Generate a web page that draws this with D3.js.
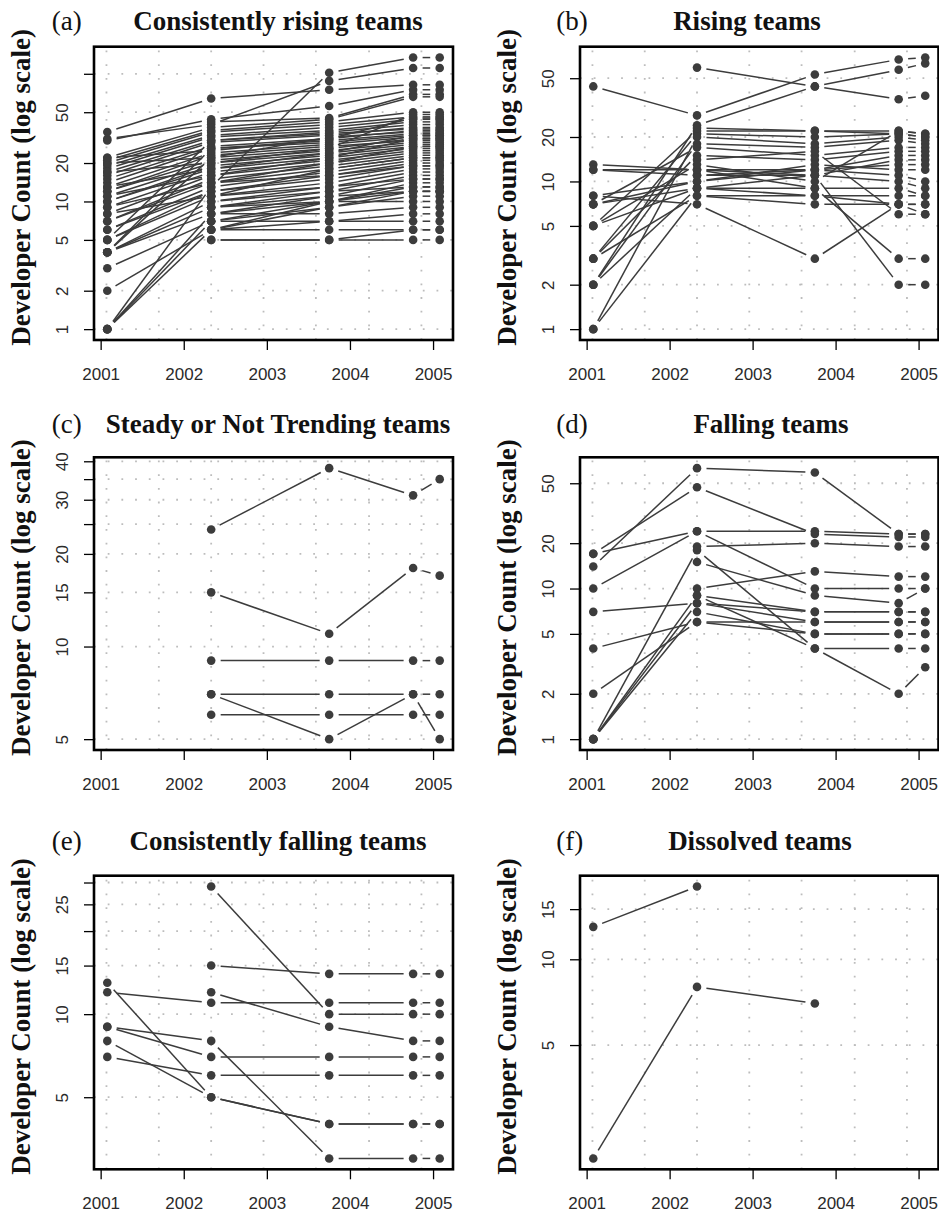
<!DOCTYPE html>
<html><head><meta charset="utf-8">
<script src="https://cdn.jsdelivr.net/npm/d3@7"></script>
<style>body{margin:0;background:#fff}</style>
</head><body><svg id="chart" width="939" height="1214"></svg>
<script>
// ---- data ----
const years = [2001.08, 2002.33, 2003.75, 2004.76, 2005.08];
const xTicks = [2001, 2002, 2003, 2004, 2005];
const gridX = [2001.07, 2001.70, 2002.33, 2002.96, 2003.59, 2004.23, 2004.86];
const xDomain = [2000.92, 2005.24];

const panelLabels = ["(a)", "(b)", "(c)", "(d)", "(e)", "(f)"];
const panelTitles = ["Consistently rising teams", "Rising teams", "Steady or Not Trending teams",
  "Falling teams", "Consistently falling teams", "Dissolved teams"];
const yAxisTitle = "Developer Count (log scale)";

const ticksA = [1, 2, 5, 10, 20, 50, 100], labelsA = [1, 2, 5, 10, 20, 50];
const ticksB = [1, 2, 5, 10, 20, 50], labelsB = [1, 2, 5, 10, 20, 50];
const ticksC = [5, 10, 15, 20, 25, 30, 35, 40], labelsC = [5, 10, 15, 20, 30, 40];
const ticksD = [1, 2, 5, 10, 20, 50], labelsD = [1, 2, 5, 10, 20, 50];
const ticksE = [5, 10, 15, 20, 25, 30], labelsE = [5, 10, 15, 25];
const ticksF = [5, 10, 15], labelsF = [5, 10, 15];

// each team: developer counts at the five snapshot dates (null = no data)
const teamsA = [
 [1, 13, 102, 134, 134],
 [35, 64, 75, 82, 82],
 [31, 40, 88, 111, 111],
 [30, 44, 56, 75, 75],
 [null, 42, 45, 69, 69],
 [22, 38, 44, 66, 66],
 [21, 36, 42, 50, 50],
 [20, 35, 40, 46, 46],
 [19, 33, 38, 44, 44],
 [18, 32, 36, 42, 42],
 [17, 30, 35, 40, 40],
 [16, 29, 33, 38, 38],
 [15, 27, 31, 36, 36],
 [14, 26, 30, 34, 34],
 [13, 24, 28, 32, 32],
 [12, 23, 27, 30, 30],
 [12, 21, 25, 29, 29],
 [11, 20, 24, 28, 28],
 [10, 19, 23, 27, 27],
 [10, 18, 22, 26, 26],
 [9, 17, 21, 25, 25],
 [8, 16, 20, 24, 24],
 [7, 15, 19, 23, 23],
 [7, 14, 18, 22, 22],
 [6, 13, 17, 21, 21],
 [6, 12, 16, 20, 20],
 [5, 12, 15, 19, 19],
 [5, 11, 14, 18, 18],
 [5, 30, 34, 37, 37],
 [4, 10, 13, 17, 17],
 [4, 9, 12, 16, 16],
 [4, 22, 26, 31, 31],
 [4, 26, 29, 33, 33],
 [4, 8, 11, 15, 15],
 [3, 7, 10, 14, 14],
 [2, 6, 10, 13, 13],
 [1, 6, 9, 12, 12],
 [1, 7, 9, 11, 11],
 [1, 8, 10, 12, 12],
 [20, 22, 32, 35, 35],
 [22, 25, 31, 45, 45],
 [17, 20, 26, 48, 48],
 [13, 18, 24, 33, 33],
 [11, 16, 22, 31, 31],
 [9, 14, 20, 27, 27],
 [8, 11, 18, 22, 22],
 [null, 10, 12, 13, 13],
 [null, 9, 11, 12, 12],
 [null, 5, 5, 5, 5],
 [null, 5, 5, 6, 6],
 [null, 6, 6, 6, 6],
 [null, 6, 7, 7, 7],
 [null, 7, 7, 8, 8],
 [null, 8, 8, 9, 9],
 [null, 9, 10, 10, 10],
 [null, 11, 13, 15, 15],
 [null, 14, 16, 19, 19]
];
const teamsB = [
 [44, 28, 53, 67, 69],
 [null, 59, 44, 36, 38],
 [2, 24, 44, 57, 63],
 [5, 22, 22, 22, 21],
 [3, 21, 20, 21, 20],
 [1, 20, 18, 20, 19],
 [2, 18, 17, 19, 18],
 [7, 17, 15, 17, 17],
 [3, 15, 14, 16, 16],
 [13, 12, 12, 15, 15],
 [12, 12, 11, 14, 14],
 [12, 11, 12, 13, 13],
 [8, 10, 13, 12, 12],
 [7, 10, 12, 11, 10],
 [7, 9, 11, 10, 9],
 [5, 9, 9, 9, 8],
 [2, 9, 8, 8, 8],
 [3, 8, 8, 7, 7],
 [1, 8, 7, 7, 7],
 [8, 7, 3, 7, 6],
 [null, 11, 11, 2, 2],
 [null, 12, 9, 3, 3],
 [null, 14, 16, 6, 6],
 [5, 13, 10, 22, 21],
 [null, 23, 22, 21, 20]
];
const teamsC = [
 [null, 24, 38, 31, 35],
 [null, 15, 11, 18, 17],
 [null, 9, 9, 9, 9],
 [null, 7, 7, 7, 7],
 [null, 7, 5, 7, 5],
 [null, 6, 6, 6, 6]
];
const teamsD = [
 [14, 63, 59, 23, 23],
 [17, 47, 23, 22, 22],
 [17, 24, 24, 23, 23],
 [10, 24, 10, 10, 10],
 [null, 19, 20, 19, 19],
 [1, 18, 4, 4, 4],
 [null, 15, 9, 8, 10],
 [null, 10, 13, 12, 12],
 [7, 8, 7, 7, 7],
 [4, 6, 6, 6, 6],
 [2, 6, 5, 5, 5],
 [1, 9, 7, 7, 7],
 [1, 8, 6, 6, 6],
 [1, 7, 5, 5, 5],
 [null, 9, 4, 2, 3]
];
const teamsE = [
 [13, 5, 4, 4, 4],
 [12, 11, 11, 11, 11],
 [9, 8, 3, 3, 3],
 [9, 7, 7, 7, 7],
 [8, 5, 4, 4, 4],
 [7, 6, 6, 6, 6],
 [null, 29, 10, 10, 10],
 [null, 15, 14, 14, 14],
 [null, 12, 9, 8, 8]
];
const teamsF = [
 [13, 18, null, null, null],
 [2, 8, 7, null, null]
];

// ---- layout ----
const colLeft = [94, 580], colRight = [453, 938.5];
const rowTop = [46.7, 457.3, 875.7], rowBottom = [340, 750, 1169.3];
const titleBase = [30, 433.3, 849.5];
const titleCenter = [278, 747, 278, 771, 278, 760];

const panels = [
  {data: teamsA, ticks: ticksA, labels: labelsA},
  {data: teamsB, ticks: ticksB, labels: labelsB},
  {data: teamsC, ticks: ticksC, labels: labelsC},
  {data: teamsD, ticks: ticksD, labels: labelsD},
  {data: teamsE, ticks: ticksE, labels: labelsE},
  {data: teamsF, ticks: ticksF, labels: labelsF}
];

const svg = d3.select("#chart");
const serif = "'Liberation Serif', 'Times New Roman', serif";
const sans = "'Liberation Sans', Arial, Helvetica, sans-serif";
const ink = "#3c3c3c";
const gap = 9.5;

panels.forEach((p, i) => {
  const col = i % 2, row = Math.floor(i / 2);
  const L = colLeft[col], R = colRight[col], T = rowTop[row], B = rowBottom[row];
  const g = svg.append("g");

  const x = d3.scaleLinear().domain(xDomain).range([L, R]);
  const vals = p.data.flat().filter(v => v != null);
  const lo = Math.log10(d3.min(vals)), hi = Math.log10(d3.max(vals));
  const pad = 0.04 * (hi - lo);
  const y = d3.scaleLog().domain([Math.pow(10, lo - pad), Math.pow(10, hi + pad)]).range([B, T]);

  // grid (dotted)
  const grid = g.append("g").attr("stroke", "#bdbdbd").attr("stroke-width", 1.8)
    .attr("stroke-dasharray", "1.8,11.9").attr("fill", "none");
  grid.selectAll("line.h").data(p.ticks).join("line")
    .attr("x1", L).attr("x2", R).attr("y1", d => y(d)).attr("y2", d => y(d));
  grid.selectAll("line.v").data(gridX).join("line")
    .attr("x1", d => x(d)).attr("x2", d => x(d)).attr("y1", B).attr("y2", T);

  // connecting segments with gaps around points (type "b")
  const segs = [];
  p.data.forEach(s => {
    for (let k = 0; k < s.length - 1; k++) {
      if (s[k] == null || s[k + 1] == null) continue;
      const x1 = x(years[k]), y1 = y(s[k]), x2 = x(years[k + 1]), y2 = y(s[k + 1]);
      const dx = x2 - x1, dy = y2 - y1, len = Math.hypot(dx, dy);
      if (len <= 2 * gap) continue;
      const ux = dx / len, uy = dy / len;
      segs.push([x1 + ux * gap, y1 + uy * gap, x2 - ux * gap, y2 - uy * gap]);
    }
  });
  g.append("g").attr("stroke", ink).attr("stroke-width", 1.5)
    .selectAll("line").data(segs).join("line")
    .attr("x1", d => d[0]).attr("y1", d => d[1]).attr("x2", d => d[2]).attr("y2", d => d[3]);

  // points
  const pts = [];
  p.data.forEach(s => s.forEach((v, k) => { if (v != null) pts.push([years[k], v]); }));
  g.append("g").attr("fill", ink)
    .selectAll("circle").data(pts).join("circle")
    .attr("cx", d => x(d[0])).attr("cy", d => y(d[1])).attr("r", 4.3);

  // box
  g.append("rect").attr("x", L).attr("y", T).attr("width", R - L).attr("height", B - T)
    .attr("fill", "none").attr("stroke", "#000").attr("stroke-width", 2.6);

  // x axis
  const xa = g.append("g").attr("transform", `translate(0,${B})`)
    .call(d3.axisBottom(x).tickValues(xTicks).tickSize(10).tickSizeOuter(0).tickPadding(18).tickFormat(d3.format("d")));
  xa.select(".domain").remove();
  xa.selectAll("line").attr("stroke", "#000").attr("stroke-width", 1.3);
  xa.selectAll("text").attr("font-family", sans).attr("font-size", 17).attr("fill", "#2a2a2a");

  // y axis
  const ya = g.append("g").attr("transform", `translate(${L},0)`)
    .call(d3.axisLeft(y).tickValues(p.ticks).tickSize(10).tickSizeOuter(0)
      .tickFormat(d => p.labels.includes(d) ? String(d) : ""));
  ya.select(".domain").remove();
  ya.selectAll("line").attr("stroke", "#000").attr("stroke-width", 1.3);
  ya.selectAll("text").attr("x", null).attr("dy", null)
    .attr("transform", "translate(-26,0) rotate(-90)")
    .attr("text-anchor", "middle")
    .attr("font-family", sans).attr("font-size", 17).attr("fill", "#2a2a2a");

  // y title
  g.append("text")
    .attr("transform", `translate(${L - 64},${(T + B) / 2 - 6}) rotate(-90)`)
    .attr("text-anchor", "middle").attr("font-family", serif).attr("font-weight", "bold")
    .attr("font-size", 27).attr("fill", "#111").text(yAxisTitle);

  // title + panel label
  g.append("text").attr("x", titleCenter[i]).attr("y", titleBase[row])
    .attr("text-anchor", "middle").attr("font-family", serif).attr("font-weight", "bold")
    .attr("font-size", 27).attr("fill", "#111").text(panelTitles[i]);
  g.append("text").attr("x", col === 0 ? 51.7 : 556.3).attr("y", titleBase[row])
    .attr("font-family", serif).attr("font-size", 27).attr("fill", "#111").text(panelLabels[i]);
});
</script></body></html>
